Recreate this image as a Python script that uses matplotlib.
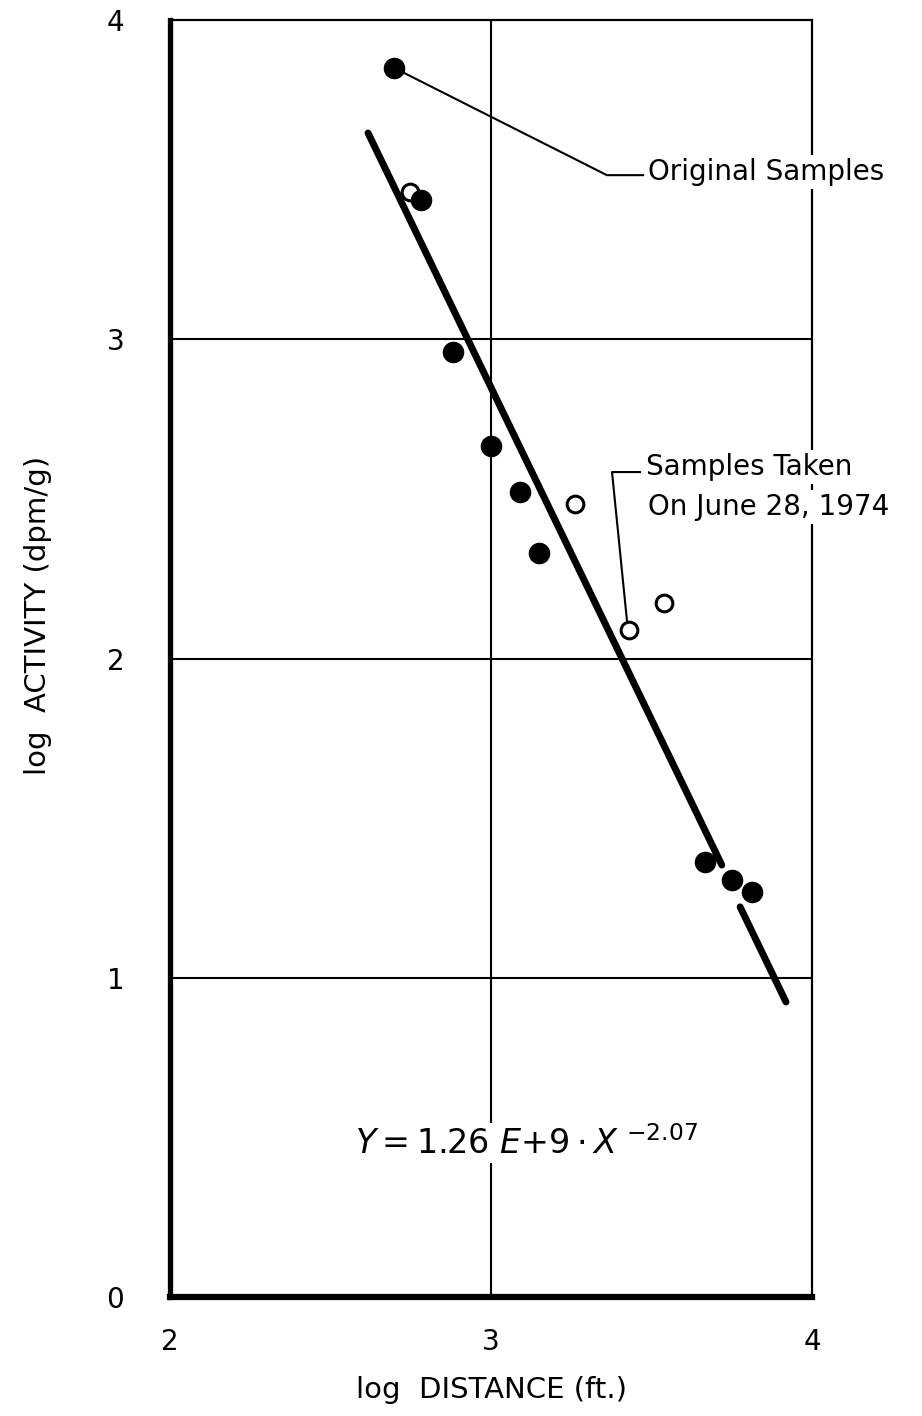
import numpy as np
import matplotlib.pyplot as plt

# data (log10 scale values)
filled_x = [2.698, 2.782, 2.883, 2.999, 3.090, 3.150, 3.667, 3.752, 3.812]
filled_y = [3.850, 3.436, 2.961, 2.666, 2.522, 2.330, 1.362, 1.306, 1.270]
open_x = [2.748, 3.262, 3.430, 3.540]
open_y = [3.462, 2.484, 2.088, 2.175]

# regression line, drawn in two pieces (gap near the last points)
fit1_x = [2.617, 3.719]
fit1_y = [3.646, 1.353]
fit2_x = [3.776, 3.919]
fit2_y = [1.222, 0.924]

x_ticks = [2, 3, 4]
y_ticks = [0, 1, 2, 3, 4]
grid_x = [3]
grid_y = [1, 2, 3]

plt.rcParams['font.family'] = ['DejaVu Sans']

fig = plt.figure(figsize=(9.22, 14.16), dpi=100)
ax = fig.add_axes([170 / 922, 119 / 1416, 642 / 922, 1277 / 1416])
ax.set_xlim(2, 4)
ax.set_ylim(0, 4)

# grid lines
for gx in grid_x:
    ax.axvline(gx, color='black', lw=1.5, zorder=1)
for gy in grid_y:
    ax.axhline(gy, color='black', lw=1.5, zorder=1)

# spines
ax.spines['left'].set_linewidth(3.8)
ax.spines['bottom'].set_linewidth(4.5)
ax.spines['top'].set_linewidth(1.6)
ax.spines['right'].set_linewidth(1.6)

ax.set_xticks(x_ticks)
ax.set_yticks(y_ticks)
ax.tick_params(axis='both', length=0, labelsize=20)
ax.tick_params(axis='y', pad=33)
ax.tick_params(axis='x', pad=22)

# fit line
ax.plot(fit1_x, fit1_y, color='black', lw=5, solid_capstyle='round', zorder=2)
ax.plot(fit2_x, fit2_y, color='black', lw=5, solid_capstyle='round', zorder=2)

# samples
ax.plot(open_x, open_y, 'o', ms=12, mfc='white', mec='black', mew=2.2, zorder=4)
ax.plot(filled_x, filled_y, 'o', ms=14.5, color='black', zorder=5)

# leader lines
ax.plot([filled_x[0], 3.361, 3.474], [filled_y[0], 3.514, 3.514],
        color='black', lw=1.5, clip_on=False, zorder=3)
ax.plot([3.424, 3.377, 3.464], [2.114, 2.584, 2.584],
        color='black', lw=1.5, clip_on=False, zorder=3)

box = dict(facecolor='white', edgecolor='none', pad=2)
ax.text(3.489, 3.524, 'Original Samples', fontsize=20, ha='left', va='center',
        bbox=box, zorder=6)
ax.text(3.483, 2.600, 'Samples Taken', fontsize=20, ha='left', va='center',
        bbox=box, zorder=6)
ax.text(3.489, 2.475, 'On June 28, 1974', fontsize=20, ha='left', va='center',
        bbox=box, zorder=6)

ax.text(2.576, 0.482, r'$Y = 1.26\ E{+}9 \cdot X^{\ {-}2.07}$', fontsize=24,
        ha='left', va='center', bbox=box, zorder=6)

fig.text(492 / 922, 1 - 1390 / 1416, 'log  DISTANCE (ft.)', fontsize=21,
         ha='center', va='center')
fig.text(38 / 922, 1 - 615 / 1416, 'log  ACTIVITY (dpm/g)', fontsize=21,
         ha='center', va='center', rotation=90)

fig.savefig('out.png', dpi=100)
